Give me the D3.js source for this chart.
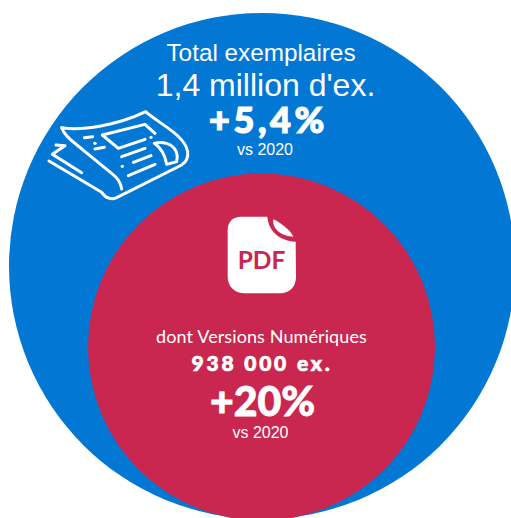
<!DOCTYPE html>
<html>
<head>
<meta charset="utf-8">
<script src="https://cdn.jsdelivr.net/npm/d3@7"></script>
<style>
  html, body { margin: 0; padding: 0; background: #fff; }
  svg { display: block; }
</style>
</head>
<body>
<svg></svg>
<script>
// values
const categories = ['Total exemplaires', 'dont Versions Numériques'];
const copies = [1400000, 938000];
const copyLabels = ["1,4 million d'ex.", '938 000 ex.'];
const growthLabels = ['+5,4%', '+20%'];
const compareLabels = ['vs 2020', 'vs 2020'];
const colors = ['#0277d4', '#c92750'];

var svgWidth = 511, svgHeight = 518;
var svg = d3.select('svg')
    .attr('width', svgWidth)
    .attr('height', svgHeight);

// radius grows with the value
var radius = d3.scaleLinear()
    .domain([copies[1], copies[0]])
    .range([173.5, 253]);

var centers = [{x: 262, y: 266}, {x: 261.5, y: 347}];

svg.selectAll('circle')
    .data(copies)
    .enter().append('circle')
    .attr('cx', (d, i) => centers[i].x)
    .attr('cy', (d, i) => centers[i].y)
    .attr('r', (d) => radius(d))
    .attr('fill', (d, i) => colors[i]);

function label(x, y, text, size, font, weight, spacing, thick) {
    svg.append('text')
        .attr('x', x)
        .attr('y', y)
        .attr('text-anchor', 'middle')
        .attr('fill', '#fff')
        .attr('stroke', thick ? '#fff' : 'none')
        .attr('stroke-width', thick || 0)
        .attr('font-family', font)
        .attr('font-size', size)
        .attr('font-weight', weight)
        .attr('letter-spacing', spacing)
        .text(text);
}

var sans = '"Liberation Sans", Arial, sans-serif';
var geo = 'Lato, sans-serif';

label(261, 61, categories[0], 24.3, sans, 400, 0);
label(265.5, 96, copyLabels[0], 32, sans, 400, 0);
label(268.5, 133, growthLabels[0], 36, geo, 900, 3.6, 1.2);
label(265, 155, compareLabels[0], 16, sans, 400, 0);

label(261.5, 343, categories[1], 18, geo, 400, 0.1);
label(262, 371, copyLabels[1], 21, geo, 900, 2.8, 0.7);
label(262.5, 416, growthLabels[1], 41, geo, 900, 0, 0.8);
label(260.5, 438, compareLabels[1], 16, sans, 400, 0);

// newspaper icon
var paper = svg.append('g')
    .attr('transform', 'translate(45,105) scale(0.3333)')
    .attr('fill', 'none')
    .attr('stroke', '#fff')
    .attr('stroke-width', 9)
    .attr('stroke-linecap', 'round')
    .attr('stroke-linejoin', 'round');

[
  'M50 68 C110 78 220 60 302 20 C340 55 420 90 428 140 C430 155 425 170 410 180 L215 278 C200 285 182 280 170 262 L12 168',
  'M50 68 C60 100 100 120 120 140 L200 205 C220 220 228 235 230 252',
  'M33 120 L60 122 L22 148 L110 203',
  'M172 90 L300 58 L330 85',
  'M172 90 L220 130 L300 103',
  'M118 98 L143 95',
  'M150 132 L178 127',
  'M230 155 L300 130',
  'M265 172 L318 152',
  'M250 212 L330 178',
  'M328 115 C365 105 405 125 395 170 L365 178 C360 150 350 130 328 115'
].forEach((d) => { paper.append('path').attr('d', d); });

[[150, 115], [318, 97], [232, 184]].forEach((p) => {
    paper.append('circle').attr('cx', p[0]).attr('cy', p[1]).attr('r', 5).attr('fill', '#fff').attr('stroke', 'none');
});

// pdf icon
var pdf = svg.append('g').attr('transform', 'translate(220,210) scale(0.3333)');
pdf.append('path')
    .attr('fill', '#fff')
    .attr('d', 'M62 20 L142 20 C145 60 175 92 227 95 L228 200 C228 235 205 250 175 250 L75 250 C45 250 23 230 23 200 L23 60 C23 35 40 20 62 20 Z');
pdf.append('path')
    .attr('fill', '#fff')
    .attr('d', 'M160 28 C185 40 210 60 220 80 C190 80 155 60 160 28 Z');
svg.append('text')
    .attr('x', 261.5)
    .attr('y', 269)
    .attr('text-anchor', 'middle')
    .attr('fill', colors[1])
    .attr('font-family', 'Lato, sans-serif')
    .attr('font-weight', 700)
    .attr('font-size', 24.5)
    .text('PDF');
</script>
</body>
</html>
